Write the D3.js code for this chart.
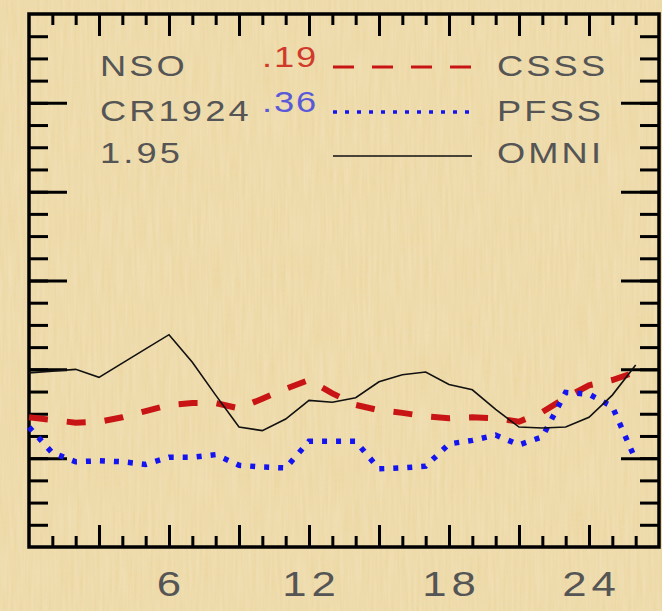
<!DOCTYPE html>
<html>
<head>
<meta charset="utf-8">
<script src="https://cdn.jsdelivr.net/npm/d3@7"></script>
<style>
  html, body { margin: 0; padding: 0; background: #edd8a5; }
  svg { display: block; }
  text { font-family: "Liberation Sans", Arial, sans-serif; }
</style>
</head>
<body>
<script>
// ---- data ----
const rotation = d3.range(0, 27); // x positions 0..26
const omni = [396, 398, 400, 391, 407, 423, 439, 408, 371, 335, 331, 344, 365, 363, 368, 386, 394, 397, 383, 377, 355, 335, 334, 335, 346, 371, 405];
const csss = [346, 343, 340, 341, 346, 353, 360, 362, 362, 356, 367, 378, 388, 373, 360, 354, 351, 347, 345, 346, 345, 341, 352, 368, 382, 388, 397];
const pfss = [335, 306, 296, 297, 296, 293, 301, 301, 304, 292, 290, 289, 319, 319, 319, 288, 289, 291, 316, 320, 326, 315, 324, 374, 372, 358, 298];
const xLabels = [6, 12, 18, 24];
const legendLeft = ["NSO", "CR1924", "1.95"];
const legendCorr = [".19", ".36"];
const legendNames = ["CSSS", "PFSS", "OMNI"];

const W = 662, H = 611;
const svg = d3.select("body").append("svg").attr("width", W).attr("height", H);

// parchment background
const defs = svg.append("defs");
const f = defs.append("filter").attr("id", "paper").attr("x", 0).attr("y", 0).attr("width", "100%").attr("height", "100%");
f.append("feTurbulence").attr("type", "fractalNoise").attr("baseFrequency", "0.35 0.02").attr("numOctaves", 2).attr("seed", 3).attr("result", "n1");
f.append("feColorMatrix").attr("in", "n1").attr("type", "matrix")
  .attr("values", "0 0 0 0 0.96  0 0 0 0 0.89  0 0 0 0 0.72  0 0 0 -0.9 0.75").attr("result", "c1");
f.append("feTurbulence").attr("type", "fractalNoise").attr("baseFrequency", "0.02 0.35").attr("numOctaves", 2).attr("seed", 7).attr("result", "n2");
f.append("feColorMatrix").attr("in", "n2").attr("type", "matrix")
  .attr("values", "0 0 0 0 0.85  0 0 0 0 0.74  0 0 0 0 0.48  0 0 0 -0.9 0.72").attr("result", "c2");
f.append("feMerge").selectAll("feMergeNode").data(["c1", "c2"]).join("feMergeNode").attr("in", d => d);

svg.append("rect").attr("width", W).attr("height", H).attr("fill", "#ecd6a0");
svg.append("rect").attr("width", W).attr("height", H).attr("filter", "url(#paper)").attr("opacity", 0.6);

// scales
const x = d3.scaleLinear().domain([0, 27]).range([29, 659]);
const y = d3.scaleLinear().domain([200, 800]).range([547, 14]);

const axes = svg.append("g").attr("class", "axes");
function styleAxis(g) {
  g.select(".domain").remove();
  g.selectAll(".tick line").attr("stroke", "#000").attr("stroke-width", 3);
  g.selectAll(".tick text").remove();
}
const xMinor = d3.range(1, 27), xMajor = d3.range(3, 27, 3);
const yMinor = d3.range(225, 800, 25), yMajor = d3.range(300, 800, 100);

axes.append("g").attr("transform", `translate(0,${y(200)})`).call(d3.axisTop(x).tickValues(xMinor).tickSize(11)).call(styleAxis);
axes.append("g").attr("transform", `translate(0,${y(200)})`).call(d3.axisTop(x).tickValues(xMajor).tickSize(22)).call(styleAxis);
axes.append("g").attr("transform", `translate(0,${y(800)})`).call(d3.axisBottom(x).tickValues(xMinor).tickSize(11)).call(styleAxis);
axes.append("g").attr("transform", `translate(0,${y(800)})`).call(d3.axisBottom(x).tickValues(xMajor).tickSize(22)).call(styleAxis);
axes.append("g").attr("transform", `translate(${x(0)},0)`).call(d3.axisRight(y).tickValues(yMinor).tickSize(19)).call(styleAxis);
axes.append("g").attr("transform", `translate(${x(0)},0)`).call(d3.axisRight(y).tickValues(yMajor).tickSize(38)).call(styleAxis);
axes.append("g").attr("transform", `translate(${x(27)},0)`).call(d3.axisLeft(y).tickValues(yMinor).tickSize(19)).call(styleAxis);
axes.append("g").attr("transform", `translate(${x(27)},0)`).call(d3.axisLeft(y).tickValues(yMajor).tickSize(38)).call(styleAxis);

// wide-glyph text helper (imitates the plotting font)
function wideText(g, tx, ty, str, size, fill, spacing, anchor) {
  const t = g.append("g").attr("transform", `translate(${tx},${ty}) scale(1.25,1)`)
    .append("text").text(str).attr("font-size", size).attr("fill", fill)
    .attr("letter-spacing", spacing);
  if (anchor === "middle") t.attr("text-anchor", "middle").attr("dx", spacing / 2);
  return t;
}

// x labels
const xl = axes.append("g");
xLabels.forEach(v => wideText(xl, x(v), 596, String(v), 35, "#555", 4, "middle"));

// frame
svg.append("rect").attr("x", x(0)).attr("y", y(800)).attr("width", x(27) - x(0)).attr("height", y(200) - y(800))
  .attr("fill", "none").attr("stroke", "#000").attr("stroke-width", 3.5);

// lines
const line = data => d3.line().x((d, i) => x(rotation[i])).y(d => y(d))(data);
svg.append("path").attr("d", line(csss)).attr("fill", "none").attr("stroke", "#c81414").attr("stroke-width", 6)
  .attr("stroke-dasharray", "19,19");
svg.append("path").attr("d", line(pfss)).attr("fill", "none").attr("stroke", "#1414f0").attr("stroke-width", 5.5)
  .attr("stroke-dasharray", "5,9");
svg.append("path").attr("d", line(omni)).attr("fill", "none").attr("stroke", "#111").attr("stroke-width", 1.6);

// legend
const lg = svg.append("g");
const rowBase = [76, 121, 163];
legendLeft.forEach((s, i) => wideText(lg, 100, rowBase[i], s, 29, "#555", 2.5));
legendCorr.forEach((s, i) => wideText(lg, 262, rowBase[i] - 9, s, 29, i === 0 ? "#d03a2a" : "#5a5ad8", 1.5));
legendNames.forEach((s, i) => wideText(lg, 497, rowBase[i], s, 29, "#555", 2.5));
const legY = [67, 112, 156];
lg.append("line").attr("x1", 333).attr("x2", 472).attr("y1", legY[0]).attr("y2", legY[0])
  .attr("stroke", "#c81414").attr("stroke-width", 3).attr("stroke-dasharray", "21,18");
lg.append("line").attr("x1", 333).attr("x2", 472).attr("y1", legY[1]).attr("y2", legY[1])
  .attr("stroke", "#1414f0").attr("stroke-width", 3.5).attr("stroke-dasharray", "4,8");
lg.append("line").attr("x1", 333).attr("x2", 472).attr("y1", legY[2]).attr("y2", legY[2])
  .attr("stroke", "#111").attr("stroke-width", 1.3);
</script>
</body>
</html>
